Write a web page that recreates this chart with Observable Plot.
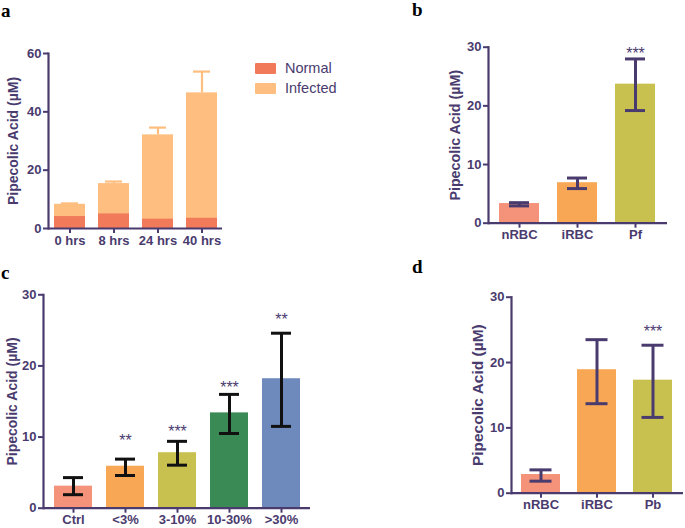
<!DOCTYPE html>
<html>
<head>
<meta charset="utf-8">
<script src="https://cdn.jsdelivr.net/npm/d3@7"></script>
<script src="https://cdn.jsdelivr.net/npm/@observablehq/plot@0.6"></script>
<style>
  html, body { margin: 0; padding: 0; background: #fff; }
  #wrap { position: relative; width: 685px; height: 528px; overflow: hidden; font-family: "Liberation Sans", Arial, sans-serif; }
  .panel { position: absolute; }
  .letter { position: absolute; font-family: "Liberation Serif", "Times New Roman", serif; font-weight: bold; font-size: 19px; color: #000; line-height: 1.1; }
  .legend { position: absolute; left: 255px; top: 58px; font-size: 14.5px; color: #4a3b6e; }
  .legend div { display: flex; align-items: center; height: 20px; }
  .legend span.sw { display: inline-block; width: 21px; height: 11px; margin-right: 9px; border-radius: 1px; }
</style>
</head>
<body>
<div id="wrap"></div>
<script>
// ---------- Data ----------
// Panel a
const aTimes = ["0 hrs", "8 hrs", "24 hrs", "40 hrs"];
const aNormal = [4.1, 5.0, 3.2, 3.5];
const aInfectedTotal = [8.3, 15.4, 32.1, 46.5];
const aInfectedErrTop = [8.6, 16.1, 34.6, 53.8];
// Panel b
const bGroups = ["nRBC", "iRBC", "Pf"];
const bMeans = [3.35, 6.9, 23.7];
const bLow = [2.95, 5.9, 19.2];
const bHigh = [3.5, 7.7, 28.0];
const bStars = ["", "", "***"];
const bStarY = [0, 0, 29.6];
// Panel c
const cGroups = ["Ctrl", "<3%", "3-10%", "10-30%", ">30%"];
const cMeans = [3.1, 5.9, 7.8, 13.4, 18.2];
const cLow = [1.9, 4.6, 6.05, 10.5, 11.5];
const cHigh = [4.3, 6.9, 9.4, 16.0, 24.6];
const cStars = ["", "**", "***", "***", "**"];
const cStarY = [0, 10.0, 11.3, 17.5, 27.0];
// Panel d
const dGroups = ["nRBC", "iRBC", "Pb"];
const dMeans = [2.86, 18.9, 17.3];
const dLow = [1.84, 13.7, 11.6];
const dHigh = [3.57, 23.5, 22.65];
const dStars = ["", "", "***"];
const dStarY = [0, 0, 25.3];

const yLabel = "Pipecolic Acid (µM)";

// ---------- Styles ----------
const axisColor = "#4a3b6e";
const colNormal = "#F07A5A";
const colInfected = "#FDBE7F";
const colSalmon = "#F4937A";
const colOrange = "#F8A854";
const colOlive = "#C8C150";
const colGreen = "#3A8A55";
const colBlue = "#6E89BC";

const wrap = document.getElementById("wrap");

function place(el, left, top) {
  const d = document.createElement("div");
  d.className = "panel";
  d.style.left = left + "px";
  d.style.top = top + "px";
  d.appendChild(el);
  wrap.appendChild(d);
}
function letter(t, left, top) {
  const d = document.createElement("div");
  d.className = "letter";
  d.textContent = t;
  d.style.left = left + "px";
  d.style.top = top + "px";
  wrap.appendChild(d);
}

function axes(ticksY, labelOffset, labelSize) {
  return [
    Plot.ruleY([0], {stroke: axisColor, strokeWidth: 2.2}),
    Plot.frame({anchor: "left", stroke: axisColor, strokeWidth: 2.2}),
    Plot.axisY({ticks: ticksY, tickSize: 5, tickPadding: 2, label: null, fontSize: 13, fontWeight: "bold", stroke: axisColor, strokeWidth: 2, fill: axisColor}),
    Plot.axisX({tickSize: 5, tickPadding: 2, label: null, fontSize: 13, fontWeight: "bold", stroke: axisColor, strokeWidth: 2, fill: axisColor}),
    Plot.text([yLabel], {text: d => d, frameAnchor: "left", rotate: -90, dx: -labelOffset, fontSize: labelSize, fontWeight: "bold", fill: axisColor, textAnchor: "middle", lineAnchor: "middle"})
  ];
}

function bar3(groups, means, low, high, colors, stars, starY, errColor, capInset, opts) {
  const rows = groups.map((g, i) => ({g, m: means[i], lo: low[i], hi: high[i], c: colors[i], s: stars[i], sy: starY[i]}));
  return Plot.plot({
    width: opts.width, height: opts.height,
    marginLeft: opts.ml, marginTop: opts.mt, marginBottom: opts.mb, marginRight: opts.mr,
    style: {fontFamily: "'Liberation Sans', Arial, sans-serif", color: axisColor, background: "transparent", overflow: "visible"},
    x: {domain: groups, paddingInner: opts.pi, paddingOuter: opts.po},
    y: {domain: [0, 30]},
    marks: [
      Plot.barY(rows, {x: "g", y: "m", fill: "c"}),
      Plot.ruleX(rows, {x: "g", y1: "lo", y2: "hi", stroke: errColor, strokeWidth: 3}),
      Plot.tickY(rows, {x: "g", y: "lo", stroke: errColor, strokeWidth: 3, insetLeft: capInset, insetRight: capInset}),
      Plot.tickY(rows, {x: "g", y: "hi", stroke: errColor, strokeWidth: 3, insetLeft: capInset, insetRight: capInset}),
      Plot.text(rows.filter(d => d.s), {x: "g", y: "sy", text: "s", fill: axisColor, fontSize: 16, dy: 4}),
      ...axes([0, 10, 20, 30], opts.lo, opts.ls)
    ]
  });
}

// ---------- Panel a ----------
const aRows = aTimes.map((t, i) => ({t, n: aNormal[i], inf: aInfectedTotal[i], top: aInfectedErrTop[i]}));
const plotA = Plot.plot({
  width: 240, height: 260,
  marginLeft: 48, marginTop: 53, marginBottom: 32, marginRight: 18,
  style: {fontFamily: "'Liberation Sans', Arial, sans-serif", color: axisColor, background: "transparent", overflow: "visible"},
  x: {domain: aTimes, paddingInner: 0.3, paddingOuter: 0.127},
  y: {domain: [0, 60]},
  marks: [
    Plot.barY(aRows, {x: "t", y: "inf", fill: colInfected}),
    Plot.barY(aRows, {x: "t", y: "n", fill: colNormal}),
    Plot.ruleX(aRows, {x: "t", y1: "inf", y2: "top", stroke: colInfected, strokeWidth: 2.2}),
    Plot.tickY(aRows, {x: "t", y: "top", stroke: colInfected, strokeWidth: 2.2, insetLeft: 7, insetRight: 7}),
    ...axes([0, 20, 40, 60], 35, 14)
  ]
});
place(plotA, 0, 0);

// legend a
const leg = document.createElement("div");
leg.className = "legend";
leg.innerHTML = `<div><span class="sw" style="background:${colNormal}"></span>Normal</div><div><span class="sw" style="background:${colInfected}"></span>Infected</div>`;
wrap.appendChild(leg);

// ---------- Panel b ----------
place(bar3(bGroups, bMeans, bLow, bHigh, [colSalmon, colOrange, colOlive], bStars, bStarY, axisColor, 10,
  {width: 285, height: 260, ml: 88, mt: 46.7, mb: 37.3, mr: 18, pi: 0.305, po: 0.17, lo: 33, ls: 14.3}), 400, 0);

// ---------- Panel c ----------
place(bar3(cGroups, cMeans, cLow, cHigh, [colSalmon, colOrange, colOlive, colGreen, colBlue], cStars, cStarY, "#111111", 9,
  {width: 330, height: 258, ml: 43, mt: 24.3, mb: 20.3, mr: 20, pi: 0.276, po: 0.181, lo: 31, ls: 14}), 0, 270);

// ---------- Panel d ----------
place(bar3(dGroups, dMeans, dLow, dHigh, [colSalmon, colOrange, colOlive], dStars, dStarY, axisColor, 8.5,
  {width: 255, height: 258, ml: 81, mt: 26.7, mb: 35.3, mr: 2, pi: 0.298, po: 0.158, lo: 33, ls: 15.5}), 430, 270);

// panel letters
letter("a", 1, 1);
letter("b", 412, 0);
letter("c", 1, 263);
letter("d", 412, 257);
</script>
</body>
</html>
